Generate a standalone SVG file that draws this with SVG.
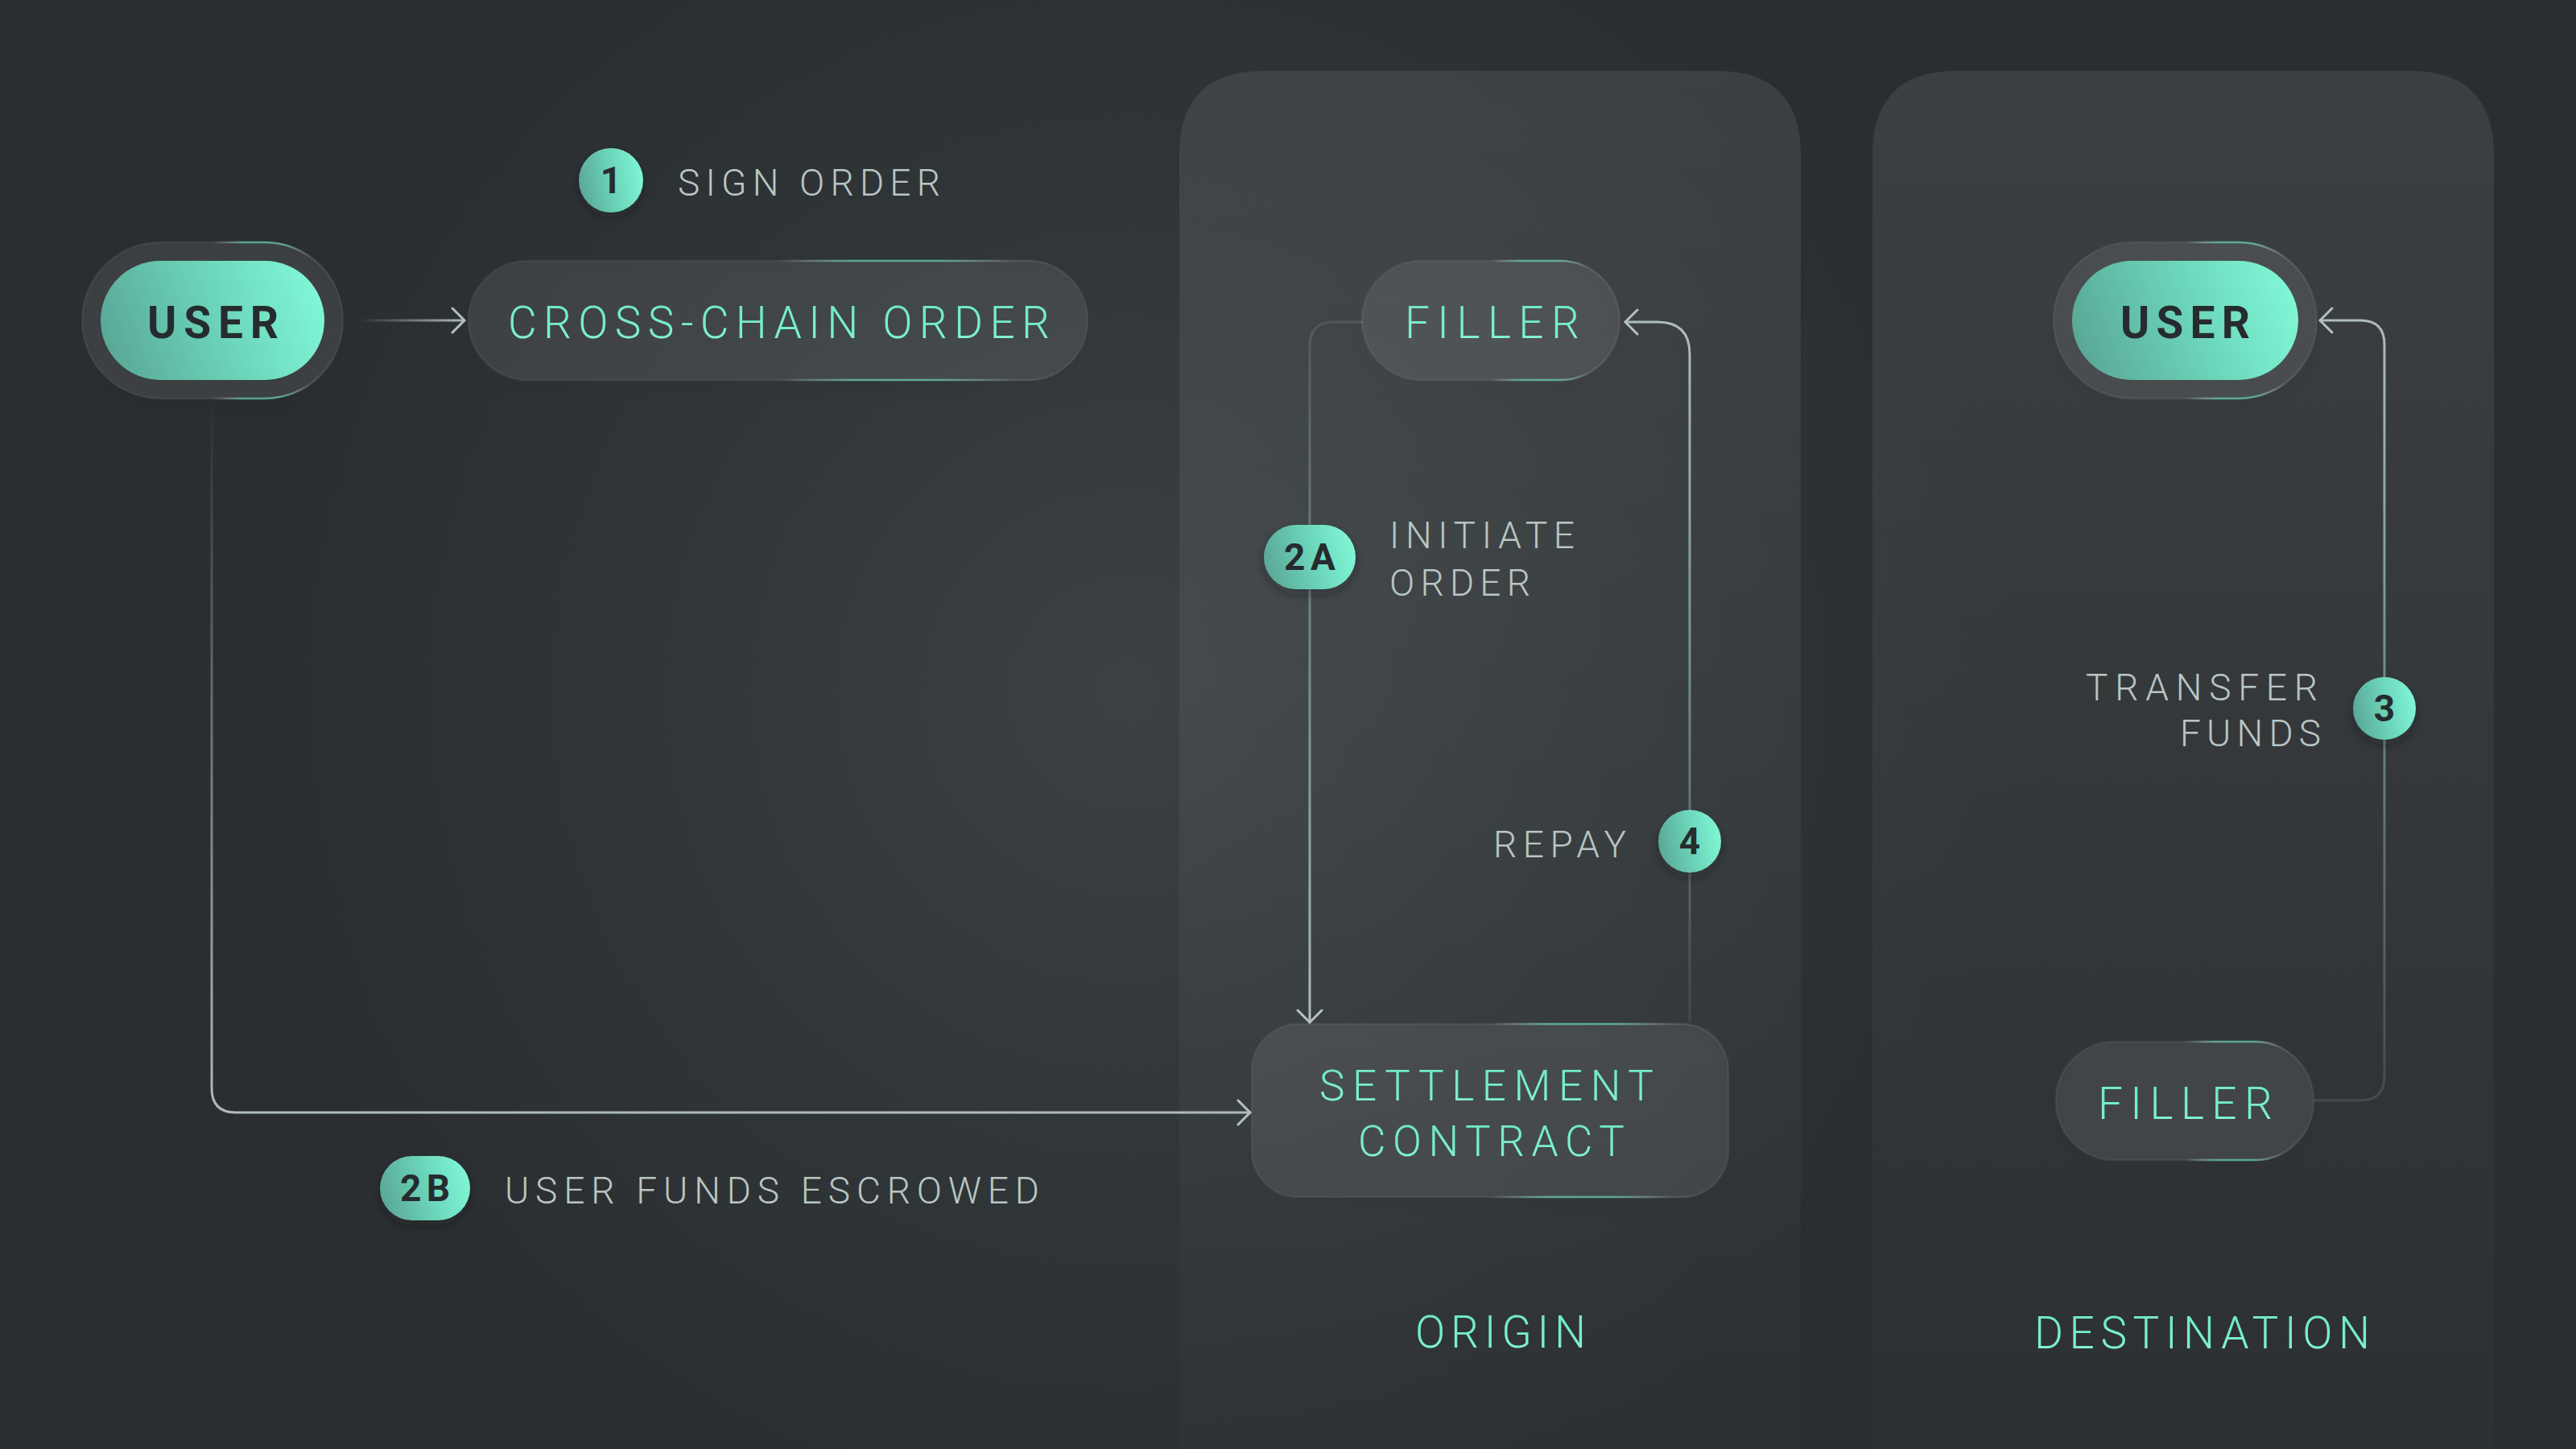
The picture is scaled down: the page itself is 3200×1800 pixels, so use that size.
<svg xmlns="http://www.w3.org/2000/svg" width="3200" height="1800" viewBox="0 0 3200 1800">
  <defs>
    <radialGradient id="bgGlow" cx="1400" cy="860" r="1100" gradientUnits="userSpaceOnUse">
      <stop offset="0" stop-color="#3b4144"/>
      <stop offset="0.55" stop-color="#303538"/>
      <stop offset="1" stop-color="#2a2e31"/>
    </radialGradient>
    <linearGradient id="panelFill" x1="0" y1="0" x2="0" y2="1">
      <stop offset="0" stop-color="#ffffff" stop-opacity="0.085"/>
      <stop offset="0.6" stop-color="#ffffff" stop-opacity="0.04"/>
      <stop offset="1" stop-color="#ffffff" stop-opacity="0.012"/>
    </linearGradient>
    <linearGradient id="greenFill" x1="0" y1="0.6" x2="1" y2="0.4">
      <stop offset="0" stop-color="#5aa897"/>
      <stop offset="0.55" stop-color="#6cd6bb"/>
      <stop offset="1" stop-color="#80f6d6"/>
    </linearGradient>
    <linearGradient id="edge" x1="0" y1="0" x2="1" y2="0">
      <stop offset="0" stop-color="#ffffff" stop-opacity="0.06"/>
      <stop offset="0.5" stop-color="#ffffff" stop-opacity="0.06"/>
      <stop offset="0.62" stop-color="#74ebcb" stop-opacity="0.6"/>
      <stop offset="0.76" stop-color="#74ebcb" stop-opacity="0.6"/>
      <stop offset="0.88" stop-color="#ffffff" stop-opacity="0.12"/>
      <stop offset="1" stop-color="#ffffff" stop-opacity="0.06"/>
    </linearGradient>
    <linearGradient id="txtGreen" x1="0" y1="0" x2="0" y2="1">
      <stop offset="0" stop-color="#6ee6c5"/>
      <stop offset="0.75" stop-color="#7cf0d0"/>
      <stop offset="1" stop-color="#b8f7e6"/>
    </linearGradient>
    <linearGradient id="g1" x1="446" y1="0" x2="578" y2="0" gradientUnits="userSpaceOnUse">
      <stop offset="0" stop-color="#b5c3c0" stop-opacity="0"/>
      <stop offset="1" stop-color="#b5c3c0" stop-opacity="0.95"/>
    </linearGradient>
    <linearGradient id="g2a" x1="0" y1="400" x2="0" y2="1272" gradientUnits="userSpaceOnUse">
      <stop offset="0" stop-color="#b5c3c0" stop-opacity="0.15"/>
      <stop offset="0.45" stop-color="#9fc9bd" stop-opacity="0.5"/>
      <stop offset="1" stop-color="#b5c3c0" stop-opacity="0.95"/>
    </linearGradient>
    <linearGradient id="g2b" x1="0" y1="494" x2="0" y2="1382" gradientUnits="userSpaceOnUse">
      <stop offset="0" stop-color="#b5c3c0" stop-opacity="0"/>
      <stop offset="0.3" stop-color="#a5cbc1" stop-opacity="0.3"/>
      <stop offset="1" stop-color="#b5c3c0" stop-opacity="0.95"/>
    </linearGradient>
    <linearGradient id="g4" x1="0" y1="1268" x2="0" y2="400" gradientUnits="userSpaceOnUse">
      <stop offset="0" stop-color="#b5c3c0" stop-opacity="0.1"/>
      <stop offset="0.5" stop-color="#9fd3c4" stop-opacity="0.55"/>
      <stop offset="1" stop-color="#b5c3c0" stop-opacity="0.95"/>
    </linearGradient>
    <linearGradient id="g3" x1="0" y1="1367" x2="0" y2="398" gradientUnits="userSpaceOnUse">
      <stop offset="0" stop-color="#b5c3c0" stop-opacity="0.15"/>
      <stop offset="0.5" stop-color="#9fd3c4" stop-opacity="0.5"/>
      <stop offset="1" stop-color="#b5c3c0" stop-opacity="0.95"/>
    </linearGradient>
    <marker id="chev" viewBox="-20 -20 24 40" markerWidth="24" markerHeight="40" refX="0" refY="0" markerUnits="userSpaceOnUse" orient="auto" overflow="visible">
      <path d="M-15,-15 L0,0 L-15,15" fill="none" stroke="#b5c3c0" stroke-width="3" stroke-linecap="round" stroke-linejoin="round"/>
    </marker>
    <filter id="shadow" x="-20%" y="-30%" width="140%" height="170%">
      <feDropShadow dx="0" dy="12" stdDeviation="12" flood-color="#15191b" flood-opacity="0.35"/>
    </filter>
    <filter id="badgeShadow" x="-40%" y="-40%" width="180%" height="190%">
      <feDropShadow dx="0" dy="6" stdDeviation="6" flood-color="#15191b" flood-opacity="0.35"/>
    </filter>
  </defs>
  <style>
    .lbl { font-family: Roboto, "Liberation Sans", sans-serif; font-size: 46px; font-weight: 300; fill: #b8c6c3; }
    .node-txt { font-family: Roboto, "Liberation Sans", sans-serif; font-size: 55px; font-weight: 300; fill: url(#txtGreen); }
    .user-txt { font-family: Roboto, "Liberation Sans", sans-serif; font-size: 55px; font-weight: 700; fill: #262b2e; }
    .badge-txt { font-family: Roboto, "Liberation Sans", sans-serif; font-size: 46px; font-weight: 700; fill: #262b2e; text-anchor: middle; }
    .node { fill: #ffffff; fill-opacity: 0.075; stroke: url(#edge); stroke-width: 2.5; filter: url(#shadow); }
    .ring { fill: #ffffff; fill-opacity: 0.075; stroke: url(#edge); stroke-width: 2.5; filter: url(#shadow); }
    .green { fill: url(#greenFill); }
    .badge { fill: url(#greenFill); filter: url(#badgeShadow); }
    .conn { fill: none; stroke-width: 3; stroke-linecap: round; stroke-linejoin: round; }
    .panel { fill: url(#panelFill); }
  </style>

  <rect x="0" y="0" width="3200" height="1800" fill="url(#bgGlow)"/>

  <g id="panel-origin">
    <path class="panel" d="M1465,1800 V193 Q1465,88 1570,88 H2132 Q2237,88 2237,193 V1800 Z"/>
    <text class="node-txt" x="1758" y="1674" textLength="212" lengthAdjust="spacing">ORIGIN</text>
  </g>
  <g id="panel-destination">
    <path class="panel" d="M2326,1800 V193 Q2326,88 2431,88 H2993 Q3098,88 3098,193 V1800 Z"/>
    <text class="node-txt" x="2527" y="1675" textLength="417" lengthAdjust="spacing">DESTINATION</text>
  </g>

  <g id="connectors">
    <path class="conn" stroke="url(#g1)" d="M446,398 H577" marker-end="url(#chev)"/>
    <path class="conn" stroke="url(#g2a)" d="M1692,400 H1657 Q1627,400 1627,430 V1270" marker-end="url(#chev)"/>
    <path class="conn" stroke="url(#g2b)" d="M263,494 V1352 Q263,1382 293,1382 H1553" marker-end="url(#chev)"/>
    <path class="conn" stroke="url(#g4)" d="M2099,1268 V440 Q2099,400 2059,400 H2019" marker-end="url(#chev)"/>
    <path class="conn" stroke="url(#g3)" d="M2875,1367 H2932 Q2962,1367 2962,1337 V428 Q2962,398 2932,398 H2882" marker-end="url(#chev)"/>
  </g>

  <g id="node-user-origin">
    <rect class="ring" x="102" y="301" width="324" height="194" rx="97"/>
    <rect class="green" x="125" y="324" width="278" height="148" rx="74"/>
    <text class="user-txt" x="183" y="420" textLength="163" lengthAdjust="spacing">USER</text>
  </g>

  <g id="node-cross-chain-order">
    <rect class="node" x="582" y="324" width="769" height="148" rx="74"/>
    <text class="node-txt" x="631" y="420" textLength="673" lengthAdjust="spacing">CROSS-CHAIN ORDER</text>
  </g>

  <g id="step-1">
    <circle class="badge" cx="759" cy="224" r="40"/>
    <text class="badge-txt" x="759" y="240">1</text>
    <text class="lbl" x="842" y="243" textLength="326" lengthAdjust="spacing">SIGN ORDER</text>
  </g>

  <g id="node-filler-origin">
    <rect class="node" x="1692" y="324" width="320" height="148" rx="74"/>
    <text class="node-txt" x="1745" y="420" textLength="217" lengthAdjust="spacing">FILLER</text>
  </g>

  <g id="step-2a">
    <rect class="badge" x="1570" y="652" width="114" height="80" rx="40"/>
    <text class="badge-txt" x="1627" y="708" textLength="64" lengthAdjust="spacing">2A</text>
    <text class="lbl" x="1726" y="681" textLength="230" lengthAdjust="spacing">INITIATE</text>
    <text class="lbl" x="1726" y="740" textLength="175" lengthAdjust="spacing">ORDER</text>
  </g>

  <g id="step-4">
    <circle class="badge" cx="2099" cy="1045" r="39"/>
    <text class="badge-txt" x="2099" y="1061">4</text>
    <text class="lbl" x="1855" y="1065" textLength="165" lengthAdjust="spacing">REPAY</text>
  </g>

  <g id="node-settlement-contract">
    <rect class="node" x="1555" y="1272" width="592" height="215" rx="58"/>
    <text class="node-txt" x="1639" y="1367" style="font-size:53px" textLength="415" lengthAdjust="spacing">SETTLEMENT</text>
    <text class="node-txt" x="1687" y="1436" style="font-size:53px" textLength="331" lengthAdjust="spacing">CONTRACT</text>
  </g>

  <g id="step-2b">
    <rect class="badge" x="472" y="1436" width="112" height="80" rx="40"/>
    <text class="badge-txt" x="528" y="1492" textLength="62" lengthAdjust="spacing">2B</text>
    <text class="lbl" x="627" y="1495" textLength="664" lengthAdjust="spacing">USER FUNDS ESCROWED</text>
  </g>

  <g id="node-user-destination">
    <rect class="ring" x="2551" y="301" width="327" height="194" rx="97"/>
    <rect class="green" x="2574" y="324" width="281" height="148" rx="74"/>
    <text class="user-txt" x="2634" y="420" textLength="161" lengthAdjust="spacing">USER</text>
  </g>

  <g id="step-3">
    <circle class="badge" cx="2962" cy="880" r="39"/>
    <text class="badge-txt" x="2962" y="896">3</text>
    <text class="lbl" x="2591" y="870" textLength="288" lengthAdjust="spacing">TRANSFER</text>
    <text class="lbl" x="2708" y="927" textLength="175" lengthAdjust="spacing">FUNDS</text>
  </g>

  <g id="node-filler-destination">
    <rect class="node" x="2554" y="1294" width="320" height="147" rx="73"/>
    <text class="node-txt" x="2606" y="1390" textLength="217" lengthAdjust="spacing">FILLER</text>
  </g>
</svg>
